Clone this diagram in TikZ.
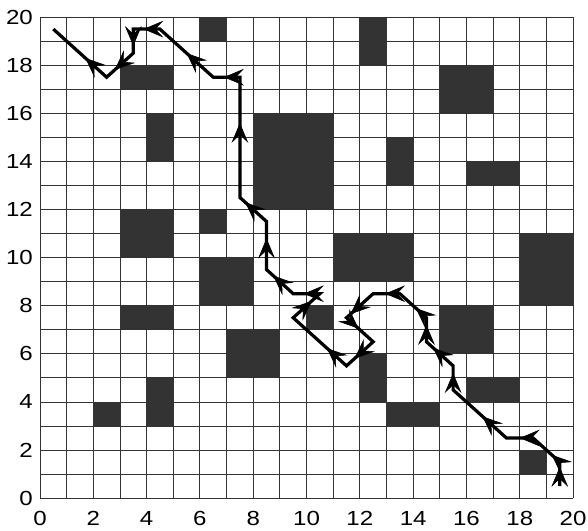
\documentclass[tikz,border=0pt]{standalone}
\usepackage{fontspec}
\setmainfont{Liberation Sans}[FakeStretch=1.18]
\usetikzlibrary{arrows.meta,decorations.markings}

\begin{document}
\begin{tikzpicture}[
    x=0.666cm, y=0.601cm,
    font=\fontsize{14.5}{16}\selectfont,
    gridRule/.style={draw=black!80,line width=0.6pt},
    blockCell/.style={fill=black!80},
    walkLine/.style={draw=black,line width=2.3pt,line join=miter},
    walkTip/.style={postaction={decorate},decoration={markings,
        mark=at position #1 with {\arrow{Stealth[length=5mm,width=4.2mm,inset=2mm]}}}},
    axisLabel/.style={inner sep=0pt}]
  \useasboundingbox (-1.50,-1.33) rectangle (20.56,20.71);
  % blocked cells
  \foreach \bx/\by/\bw/\bh in {6/19/1/1, 3/17/2/1, 4/14/1/2, 8/12/3/4, 3/10/2/2,
      6/11/1/1, 6/8/2/2, 3/7/2/1, 7/5/2/2, 4/3/1/2, 2/3/1/1, 12/18/1/2,
      15/16/2/2, 13/13/1/2, 16/13/2/1, 11/9/3/2, 18/8/2/3, 10/7/1/1,
      15/6/2/2, 12/4/1/2, 16/4/2/1, 13/3/2/1, 18/1/1/1}
    \fill[blockCell] (\bx,\by) rectangle ++(\bw,\bh);
  % grid
  \foreach \k in {0,...,20} {
    \draw[gridRule] (\k,0) -- (\k,20);
    \draw[gridRule] (0,\k) -- (20,\k);
  }
  % axis labels
  \foreach \k in {0,2,...,20} {
    \node[axisLabel,anchor=east] (ylab\k) at (-0.26,\k) {\k};
    \node[axisLabel] (xlab\k) at (\k,-0.83) {\k};
  }
  % walk
  \foreach \n/\px/\py in {0/19.5/0.5, 1/19.5/1.5, 2/18.5/2.5, 3/17.5/2.5,
      4/15.5/4.5, 5/15.5/5.5, 6/14.5/6.5, 7/14.5/7.5, 8/13.5/8.5,
      9/12.5/8.5, 10/11.5/7.5, 11/12.5/6.5, 12/11.5/5.5, 13/9.5/7.5,
      14/10.5/8.5, 15/9.5/8.5, 16/8.5/9.5, 17/8.5/11.5, 18/7.5/12.5,
      19/7.5/17.5, 20/6.5/17.5, 21/4.5/19.5, 22/3.5/19.5, 23/3.5/18.5,
      24/2.5/17.5, 25/0.5/19.5}
    \coordinate (w\n) at (\px,\py);
  \draw[walkLine] (w0) \foreach \n in {1,...,25} { -- (w\n) };
  \foreach \n/\f in {0/0.8, 1/0.3, 2/0.5, 3/0.45, 4/0.7, 5/0.75, 6/0.7,
      7/0.4, 8/0.55, 9/0.85, 10/0.45, 11/0.7, 12/0.37, 13/0.7, 14/0.6,
      15/0.75, 16/0.65, 17/0.8, 18/0.62, 19/0.6, 20/0.5, 21/0.62,
      22/0.7, 23/0.7, 24/0.4} {
    \pgfmathtruncatemacro{\m}{\n+1}
    \path[walkTip=\f] (w\n) -- (w\m);
  }
\end{tikzpicture}
\end{document}
